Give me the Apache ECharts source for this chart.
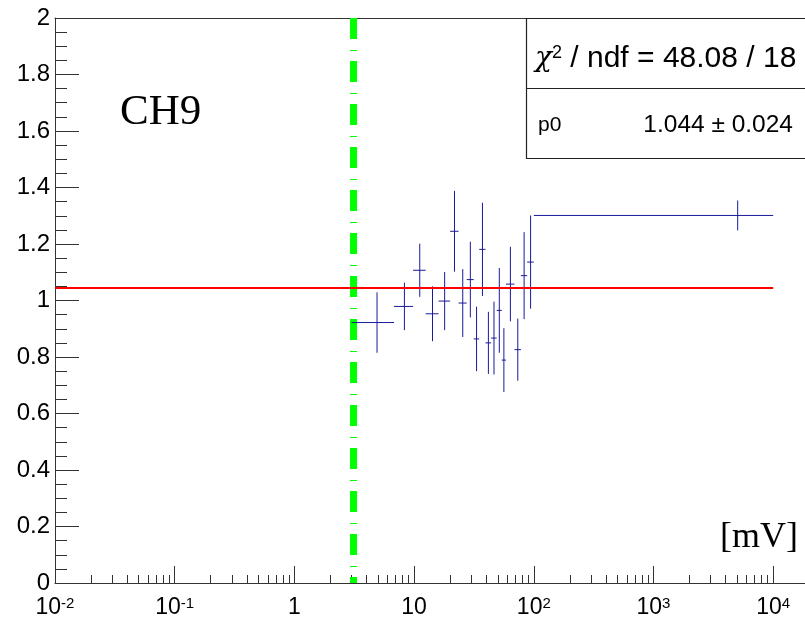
<!DOCTYPE html>
<html>
<head>
<meta charset="utf-8">
<script src="https://cdn.jsdelivr.net/npm/echarts@6/dist/echarts.min.js"></script>
<style>
  html, body { margin: 0; padding: 0; background: #ffffff; }
  #chart { width: 805px; height: 620px; }
</style>
</head>
<body>
<div id="chart"></div>
<script>
// Bin edges of the ratio histogram [mV]
const binEdges = [3, 6.8, 9.8, 12.5, 16, 20, 23.5, 27.5, 31.5, 35, 39.5, 44, 49, 54, 58.5, 69, 78, 88, 100, 10000];
// Bin contents and their errors
const ratio    = [0.922, 0.979, 1.107, 0.953, 0.998, 1.245, 0.991, 1.074, 0.864, 1.181, 0.850, 0.867, 0.965, 0.789, 1.058, 0.826, 1.088, 1.136, 1.301];
const ratioErr = [0.107, 0.084, 0.094, 0.097, 0.103, 0.143, 0.120, 0.134, 0.114, 0.165, 0.110, 0.129, 0.150, 0.113, 0.132, 0.110, 0.154, 0.165, 0.053];

// Constant fit (pol0) result
const fitP0 = 1.044;
const fitP0Err = 0.024;
const chi2 = 48.08;
const ndf = 18;
const fitRange = [0.01, 10000];

// Threshold marker [mV]
const thresholdValue = 3.12;

// Axis settings
const xMin = 0.01;
const xMajorTicks = [0.01, 0.1, 1, 10, 100, 1000, 10000];
const yMin = 0, yMax = 2, yStep = 0.2;

const channelName = 'CH9';
const unitLabel = '[mV]';

// Frame layout: the frame runs past the right edge of the canvas,
// one decade spans 119.7 px
const plotLeft = 55, plotTop = 18, plotWidth = 750, plotHeight = 565;
const pxPerDecade = 119.7;
const xMax = xMin * Math.pow(10, plotWidth / pxPerDecade);

// Minor ticks 2..9 within each decade
const xMinorTicks = [];
for (let i = 0; i < xMajorTicks.length; i++) {
  for (let k = 2; k <= 9; k++) {
    const v = xMajorTicks[i] * k;
    if (v < xMax) xMinorTicks.push(v);
  }
}

const histData = ratio.map((v, i) => [binEdges[i], binEdges[i + 1], v, ratioErr[i]]);

const axisColor = '#333333';
const sansFont = '"Liberation Sans", Arial, Helvetica, sans-serif';
const serifFont = '"Liberation Serif", "Times New Roman", serif';

function xLabel(v) {
  const e = Math.round(Math.log10(v));
  if (e === 0) return '{b|1}';
  if (e === 1) return '{b|10}';
  return '{b|10}{s|' + e + '}';
}

const chart = echarts.init(document.getElementById('chart'), null, { renderer: 'canvas' });

const option = {
  animation: false,
  backgroundColor: '#ffffff',
  grid: {
    left: plotLeft, top: plotTop, width: plotWidth, height: plotHeight,
    show: false
  },
  xAxis: [
    {
      type: 'log', logBase: 10, min: xMin, max: xMax, position: 'bottom',
      axisLine: { show: true, lineStyle: { color: axisColor, width: 1 } },
      axisTick: { show: true, inside: true, length: 17, customValues: xMajorTicks, lineStyle: { color: axisColor } },
      axisLabel: {
        show: true, customValues: xMajorTicks, margin: 13, color: '#000',
        formatter: xLabel,
        rich: {
          b: { fontFamily: sansFont, fontSize: 23, lineHeight: 23, color: '#000' },
          s: { fontFamily: sansFont, fontSize: 15, lineHeight: 4, verticalAlign: 'top', color: '#000' }
        }
      },
      splitLine: { show: false }
    },
    {
      type: 'log', logBase: 10, min: xMin, max: xMax, position: 'bottom',
      axisLine: { show: false },
      axisTick: { show: true, inside: true, length: 8, customValues: xMinorTicks, lineStyle: { color: axisColor } },
      axisLabel: { show: false },
      splitLine: { show: false }
    },
    {
      // top edge of the frame
      type: 'log', logBase: 10, min: xMin, max: xMax, position: 'top',
      axisLine: { show: true, lineStyle: { color: axisColor, width: 1 } },
      axisTick: { show: false },
      axisLabel: { show: false },
      splitLine: { show: false }
    }
  ],
  yAxis: {
    type: 'value', min: yMin, max: yMax, interval: yStep,
    axisLine: { show: true, lineStyle: { color: axisColor, width: 1 } },
    axisTick: { show: true, inside: true, length: 24, lineStyle: { color: axisColor } },
    minorTick: { show: true, splitNumber: 4, length: 12, lineStyle: { color: axisColor } },
    axisLabel: { margin: 5, color: '#000', fontFamily: sansFont, fontSize: 24 },
    splitLine: { show: false }
  },
  series: [
    {
      name: 'threshold', type: 'line', xAxisIndex: 0, z: 2,
      data: [[thresholdValue, yMax], [thresholdValue, yMin]],
      symbol: 'none', silent: true,
      lineStyle: { color: '#00ff00', width: 7, type: [21, 11, 1, 10], cap: 'butt' }
    },
    {
      name: 'ratio', type: 'custom', xAxisIndex: 0, z: 3,
      data: histData,
      encode: { x: [0, 1], y: 2 },
      renderItem: function (params, api) {
        const lo = api.value(0), hi = api.value(1), v = api.value(2), e = api.value(3);
        const c = (lo + hi) / 2;
        const pL = api.coord([lo, v]);
        const pR = api.coord([hi, v]);
        const pT = api.coord([c, v + e]);
        const pB = api.coord([c, v - e]);
        const st = { stroke: '#1a1a9a', lineWidth: 1 };
        return {
          type: 'group',
          children: [
            { type: 'line', shape: { x1: pL[0], y1: pL[1], x2: pR[0], y2: pR[1] }, style: st },
            { type: 'line', shape: { x1: pT[0], y1: pT[1], x2: pB[0], y2: pB[1] }, style: st }
          ]
        };
      }
    },
    {
      name: 'fit', type: 'line', xAxisIndex: 0, z: 4,
      data: [[fitRange[0], fitP0], [fitRange[1], fitP0]],
      symbol: 'none', silent: true,
      lineStyle: { color: '#ff0000', width: 2 }
    }
  ],
  graphic: [
    {
      type: 'rect', z: 100,
      shape: { x: 526.5, y: 18.5, width: 320, height: 140 },
      style: { fill: '#ffffff', stroke: '#222222', lineWidth: 1.2 }
    },
    {
      type: 'line', z: 101,
      shape: { x1: 526.5, y1: 88.5, x2: 846, y2: 88.5 },
      style: { stroke: '#222222', lineWidth: 1.2 }
    },
    {
      type: 'text', z: 102, x: 535, y: 59,
      style: {
        text: '{c|\u03c7}{s|2}{t| / ndf = ' + chi2.toFixed(2) + ' / ' + ndf + '}',
        verticalAlign: 'middle', align: 'left',
        rich: {
          c: { fontFamily: '"DejaVu Serif", serif', fontStyle: 'italic', fontSize: 28, lineHeight: 30, fill: '#000' },
          t: { fontFamily: sansFont, fontSize: 30, lineHeight: 30, fill: '#000' },
          s: { fontFamily: sansFont, fontSize: 18, lineHeight: 6, verticalAlign: 'top', fill: '#000' }
        }
      }
    },
    {
      type: 'text', z: 102, x: 538, y: 125,
      style: { text: 'p0', font: '21px ' + sansFont, fill: '#000', verticalAlign: 'middle', align: 'left' }
    },
    {
      type: 'text', z: 102, x: 793, y: 125,
      style: {
        text: fitP0.toFixed(3) + ' \u00b1 ' + fitP0Err.toFixed(3),
        font: '24.5px ' + sansFont, fill: '#000', verticalAlign: 'middle', align: 'right'
      }
    },
    {
      type: 'text', z: 102, x: 120, y: 113,
      style: { text: channelName, font: '43px ' + serifFont, fill: '#000', verticalAlign: 'middle', align: 'left' }
    },
    {
      type: 'text', z: 102, x: 798, y: 538,
      style: { text: unitLabel, font: '36px ' + serifFont, fill: '#000', verticalAlign: 'middle', align: 'right' }
    }
  ]
};

chart.setOption(option);
</script>
</body>
</html>
